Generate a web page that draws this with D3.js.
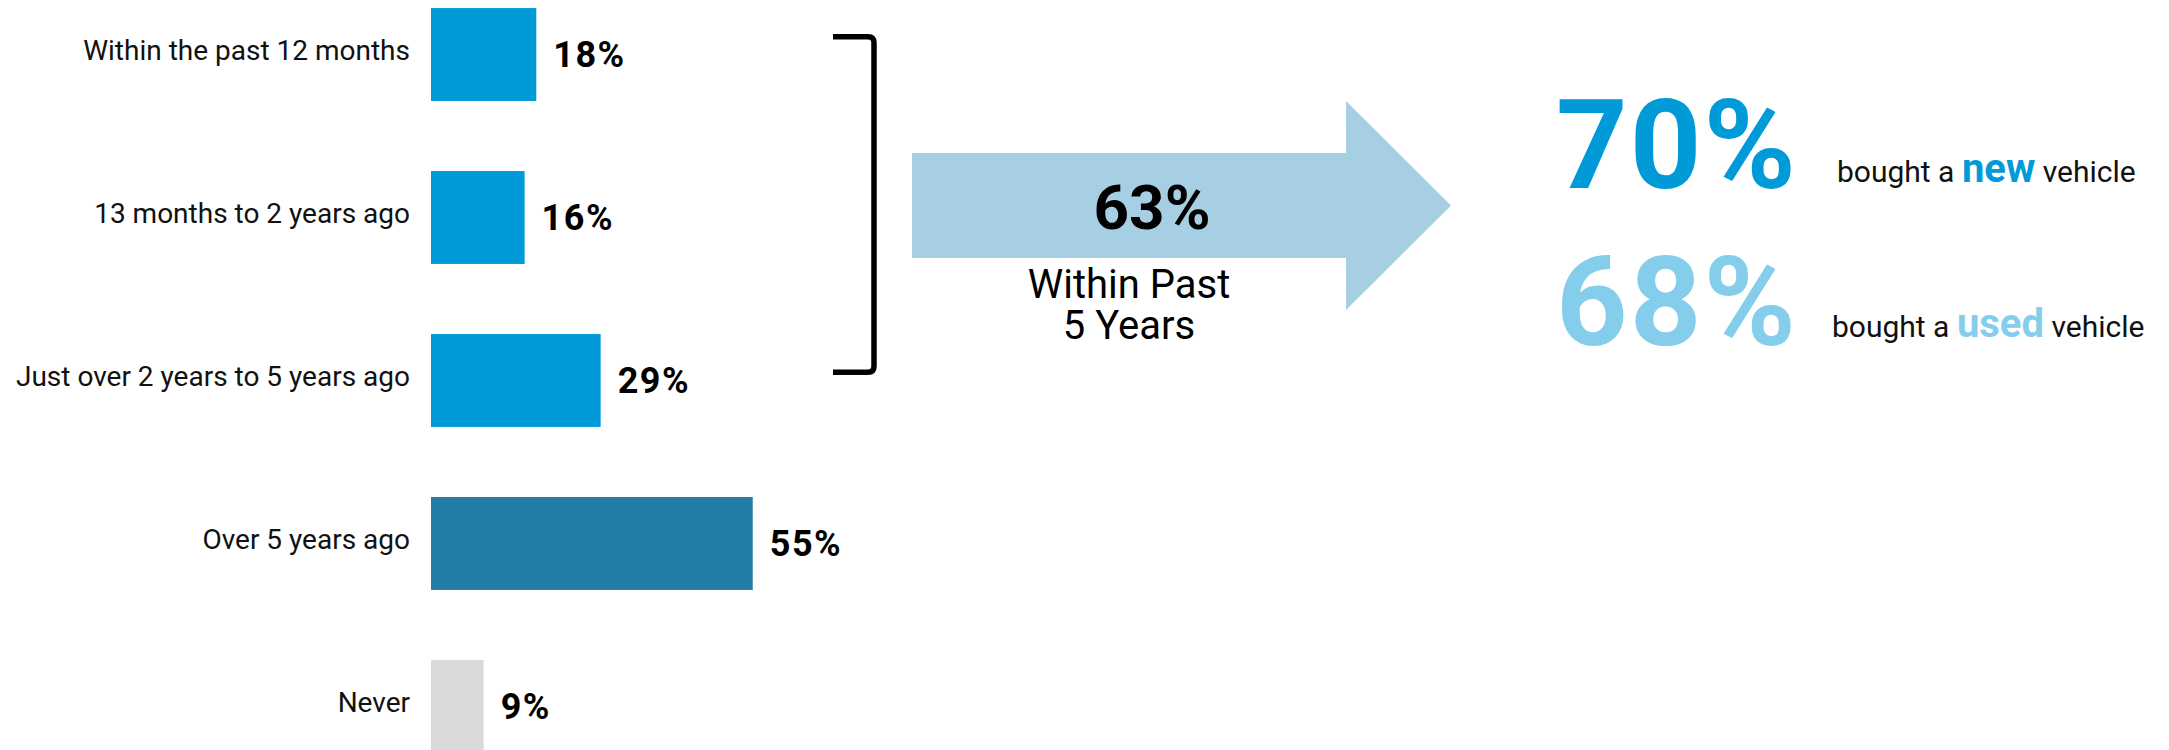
<!DOCTYPE html>
<html>
<head>
<meta charset="utf-8">
<script src="https://cdn.jsdelivr.net/npm/d3@7"></script>
<style>
  html, body { margin: 0; padding: 0; background: #ffffff; }
  svg { display: block; }
</style>
</head>
<body>
<div id="chart"></div>
<script>
// ---- data ----
const categories = [
  "Within the past 12 months",
  "13 months to 2 years ago",
  "Just over 2 years to 5 years ago",
  "Over 5 years ago",
  "Never"
];
const values = [18, 16, 29, 55, 9];
const groupTotal = 63;
const groupLabel = ["Within Past", "5 Years"];
const splitValues = [70, 68];
const splitWords = ["new", "used"];
const splitPrefix = "bought a ";
const splitSuffix = " vehicle";

// ---- styles ----
const barColors = ["#009AD8", "#009AD8", "#009AD8", "#237DA7", "#D9D9D9"];
const splitColors = ["#009AD8", "#84CDEB"];
const arrowColor = "#A7CFE3";
const font = "Roboto, 'Open Sans', sans-serif";

const W = 2169, H = 750;
const svg = d3.select("#chart").append("svg")
  .attr("width", W).attr("height", H)
  .style("font-family", font);

svg.append("rect").attr("width", W).attr("height", H).attr("fill", "#fff");

// ---- scales ----
const x = d3.scaleLinear().domain([0, 100]).range([431, 1016]);
const y = d3.scaleBand().domain(categories).range([-27, 788])
  .paddingInner(0.43).paddingOuter(0.215);

// ---- bars ----
const rows = categories.map((c, i) => ({ c, v: values[i], i }));

svg.append("g").selectAll("rect").data(rows).join("rect")
  .attr("x", x(0))
  .attr("y", d => y(d.c))
  .attr("width", d => x(d.v) - x(0))
  .attr("height", y.bandwidth())
  .attr("fill", d => barColors[d.i]);

// category labels (axis without line/ticks)
const axis = d3.axisLeft(y).tickSize(0).tickPadding(0);
const gAxis = svg.append("g").attr("transform", `translate(${x(0) - 21},0)`).call(axis);
gAxis.select(".domain").remove();
gAxis.selectAll("text")
  .attr("font-family", font)
  .attr("font-size", 28)
  .attr("fill", "#111")
  .attr("dy", "0.2em");

// value labels
svg.append("g").selectAll("text").data(rows).join("text")
  .attr("x", d => x(d.v) + 17)
  .attr("y", d => y(d.c) + y.bandwidth() / 2 + 12.5)
  .attr("font-size", 36)
  .attr("font-weight", 700)
  .attr("letter-spacing", 1.5)
  .attr("fill", "#000")
  .text(d => d.v + "%");

// ---- bracket over first three categories ----
const bTop = y(categories[0]) + y.bandwidth() * 0.31;
const bBot = y(categories[2]) + y.bandwidth() * 0.41;
const bx1 = 833, bx2 = 874, r = 6;
svg.append("path")
  .attr("d", `M${bx1},${bTop} H${bx2 - r} Q${bx2},${bTop} ${bx2},${bTop + r} V${bBot - r} Q${bx2},${bBot} ${bx2 - r},${bBot} H${bx1}`)
  .attr("fill", "none")
  .attr("stroke", "#000")
  .attr("stroke-width", 5.5);

// ---- arrow ----
const ax0 = 912, ax1 = 1346, ax2 = 1451;
const sTop = 153, sBot = 258, hTop = 101, hBot = 310, tipY = 205.5;
svg.append("path")
  .attr("d", `M${ax0},${sTop} H${ax1} V${hTop} L${ax2},${tipY} L${ax1},${hBot} V${sBot} H${ax0} Z`)
  .attr("fill", arrowColor);

svg.append("text")
  .attr("x", 1152).attr("y", 229)
  .attr("text-anchor", "middle")
  .attr("font-size", 62).attr("font-weight", 700).attr("fill", "#000")
  .text(groupTotal + "%");

groupLabel.forEach((d, i) => {
  svg.append("text")
    .attr("text-anchor", "middle")
    .attr("font-size", 40).attr("fill", "#000")
    .attr("x", 1129)
    .attr("y", 298 + i * 41)
    .text(d);
});

// ---- right-side big numbers ----
const bigY = [188, 345];
const lineY = [182, 337];
const lineX = [1837, 1832];
splitValues.forEach((v, i) => {
  svg.append("text")
    .attr("x", 1556).attr("y", bigY[i])
    .attr("font-size", 125).attr("font-weight", 700)
    .attr("letter-spacing", 2)
    .attr("fill", splitColors[i])
    .text(v + "%");
  const t = svg.append("text")
    .attr("x", lineX[i]).attr("y", lineY[i])
    .attr("font-size", 30).attr("fill", "#111");
  t.append("tspan").text(splitPrefix);
  t.append("tspan").attr("font-size", 40).attr("font-weight", 700)
    .attr("fill", splitColors[i]).text(splitWords[i]);
  t.append("tspan").text(splitSuffix);
});
</script>
</body>
</html>
